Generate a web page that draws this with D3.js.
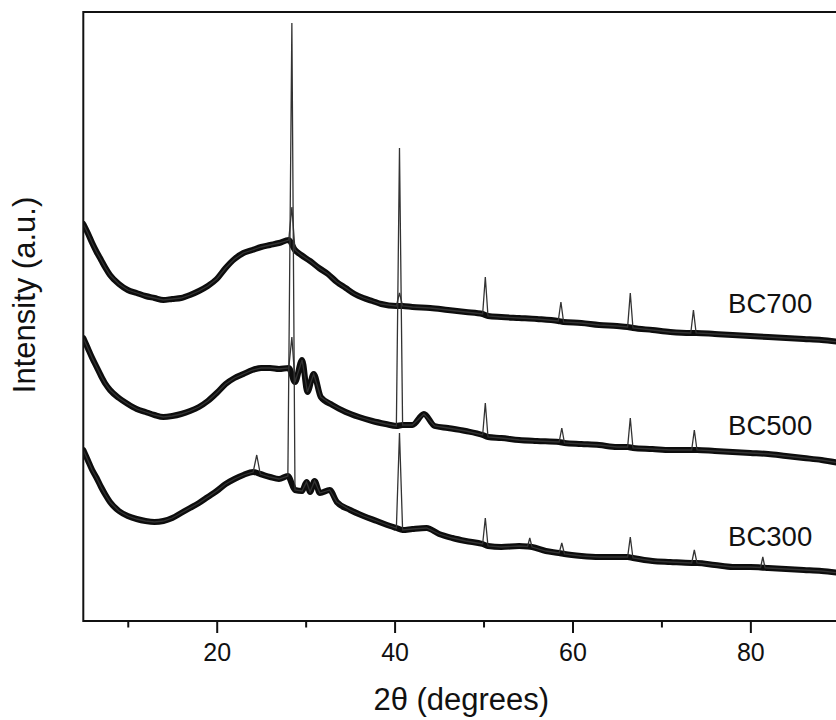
<!DOCTYPE html>
<html>
<head>
<meta charset="utf-8">
<script src="https://cdn.jsdelivr.net/npm/d3@7/dist/d3.min.js"></script>
<style>
  body { margin: 0; background: #fff; }
  text { font-family: "Liberation Sans", Arial, sans-serif; fill: #111; }
</style>
</head>
<body>
<div id="chart"></div>
<script>
// XRD readings: [2theta, intensity a.u.] (stacked traces)
var bc700 = [
  [5,3970],[5.5,3880],[6,3780],[6.5,3690],[7,3610],[7.5,3530],[8,3460],[9,3370],[10,3310],
  [11,3280],[12,3250],[13,3230],[14,3210],[15,3220],[16,3230],[17,3260],[18,3300],[19,3350],
  [20,3420],[21,3530],[22,3620],[23,3680],[24,3710],[25,3740],[26,3760],[27,3780],[28.1,3810],
  [28.45,4140],[28.8,3710],[29.5,3660],[30.5,3600],[31.5,3530],[32.5,3470],[33.5,3390],
  [34.5,3330],[35.5,3270],[36.5,3230],[37.5,3200],[38.5,3170],[40.2,3150],[40.55,3280],
  [40.9,3150],[42,3140],[44,3130],[46,3110],[48,3090],[49.9,3070],[50.2,3440],[50.5,3050],
  [52,3040],[54,3030],[56,3020],[58.4,3000],[58.7,3190],[59,2990],[61,2980],[63,2960],
  [65,2950],[66.2,2940],[66.5,3280],[66.8,2930],[69,2910],[71,2890],[73.3,2880],[73.6,3110],
  [73.9,2880],[76,2870],[78,2860],[80,2850],[82,2840],[84,2830],[86,2820],[88,2810],[90,2790]
];
var bc500 = [
  [5,2830],[5.5,2730],[6,2630],[6.5,2540],[7,2450],[7.5,2370],[8,2310],[9,2230],[10,2170],
  [11,2120],[12,2090],[13,2060],[14,2040],[15,2050],[16,2070],[17,2100],[18,2140],[19,2200],
  [20,2280],[21,2370],[22,2430],[23,2470],[24,2510],[25,2530],[26,2530],[27,2520],[28.1,2530],
  [28.45,2840],[28.8,2390],[29.6,2610],[30.2,2290],[30.9,2470],[31.7,2240],[33,2160],
  [34.5,2090],[36,2040],[37.5,2000],[39,1970],[40.2,1950],[40.55,4730],[40.9,1960],[42,1960],
  [43.3,2070],[44.5,1950],[46,1930],[48,1900],[49.9,1860],[50.2,2180],[50.5,1840],[52,1830],
  [54,1810],[56,1800],[58.5,1790],[58.8,1930],[59.1,1780],[61,1770],[63,1760],[65,1740],
  [66.2,1740],[66.5,2030],[66.8,1730],[69,1720],[71,1710],[73.4,1710],[73.7,1910],[74,1710],
  [76,1700],[78,1690],[80,1680],[82,1670],[84,1650],[86,1630],[88,1610],[90,1580]
];
var bc300 = [
  [5,1710],[5.5,1610],[6,1510],[6.5,1430],[7,1340],[7.5,1260],[8,1190],[9,1100],[10,1050],
  [11,1020],[12,1000],[13,990],[14,1000],[15,1030],[16,1080],[17,1130],[18,1180],[19,1240],
  [20,1300],[21,1370],[22,1420],[23,1460],[24.1,1490],[24.5,1660],[24.9,1470],[26,1440],
  [27,1420],[28,1450],[28.45,5980],[28.8,1310],[29.6,1300],[30.1,1390],[30.5,1290],[31,1400],
  [31.6,1280],[32.7,1310],[33.5,1190],[35,1110],[36.5,1050],[38,1000],[39.5,950],[40.2,930],
  [40.55,1880],[40.9,910],[42,920],[43.6,930],[45,870],[46.5,830],[48,800],[49.9,770],
  [50.2,1030],[50.5,750],[52,740],[54,750],[54.95,745],[55.2,830],[55.45,740],[57,700],
  [58.5,680],[58.8,780],[59.1,670],[61,650],[63,640],[65,640],[66.2,640],[66.5,840],[66.8,630],
  [69,600],[71,590],[73.4,580],[73.7,710],[74,580],[76,560],[78,540],[80,540],[81.15,535],
  [81.4,640],[81.65,532],[82,530],[84,520],[86,510],[88,500],[90,480]
];
var sampleNames = ['BC700', 'BC500', 'BC300'];
var labelPos = [[77.5, 3085], [77.5, 1860], [77.5, 750]];   // [2theta, intensity] of each name
var peakPos = [24.5, 28.45, 40.55, 50.2, 55.2, 58.75, 66.5, 73.65, 81.4];  // sharp spikes
var xTicks = [20, 40, 60, 80];
var xMinorTicks = [10, 30, 50, 70, 90];

var W = 836, H = 720;
var plotL = 83.3, plotR = 839.3, plotT = 12, plotB = 621;

var x = d3.scaleLinear().domain([5, 90]).range([plotL, plotR]);
var y = d3.scaleLinear().domain([0, 6090]).range([plotB, plotT]);

var svg = d3.select('#chart').append('svg')
    .attr('width', W)
    .attr('height', H);

svg.append('clipPath').attr('id', 'plotclip')
  .append('rect')
    .attr('x', plotL).attr('y', plotT)
    .attr('width', plotR - plotL).attr('height', plotB - plotT);

var line = d3.line()
    .x(function(d) { return x(d[0]); })
    .y(function(d) { return y(d[1]); });

var bandLine = d3.line()
    .curve(d3.curveMonotoneX)
    .x(function(d) { return x(d[0]); })
    .y(function(d) { return y(d[1]); });

function isPeak(d) {
  return peakPos.some(function(p) { return Math.abs(p - d[0]) < 0.21; });
}

var plot = svg.append('g').attr('clip-path', 'url(#plotclip)');
[bc700, bc500, bc300].forEach(function(series) {
  // noisy background band
  plot.append('path')
    .datum(series.filter(function(d) { return !isPeak(d); }))
    .attr('d', bandLine)
    .attr('fill', 'none')
    .attr('stroke', '#0d0d0d')
    .attr('stroke-width', 6)
    .attr('stroke-linejoin', 'round')
    .attr('stroke-linecap', 'round');
  // full trace with the sharp peaks
  plot.append('path')
    .datum(series)
    .attr('d', line)
    .attr('fill', 'none')
    .attr('stroke', '#333')
    .attr('stroke-width', 1.3);
});

// frame (right side runs off the picture)
svg.append('path')
    .attr('d', 'M' + W + ',' + plotT + 'H' + plotL + 'V' + plotB + 'H' + W)
    .attr('fill', 'none')
    .attr('stroke', '#111')
    .attr('stroke-width', 2);

// x axis
var gx = svg.append('g')
    .attr('transform', 'translate(0,' + plotB + ')')
    .call(d3.axisBottom(x).tickValues(xTicks).tickSize(12).tickPadding(10));
gx.select('.domain').remove();
gx.selectAll('line').attr('stroke', '#111').attr('stroke-width', 2);
gx.selectAll('text')
    .style('font-size', '25px')
    .style('font-family', '"Liberation Sans", Arial, sans-serif')
    .attr('fill', '#111');

var gm = svg.append('g')
    .attr('transform', 'translate(0,' + plotB + ')')
    .call(d3.axisBottom(x).tickValues(xMinorTicks).tickSize(6.5).tickFormat(''));
gm.select('.domain').remove();
gm.selectAll('line').attr('stroke', '#111').attr('stroke-width', 2);

// axis titles
svg.append('text')
    .attr('x', (plotL + plotR) / 2)
    .attr('y', 710)
    .attr('text-anchor', 'middle')
    .style('font-size', '31px')
    .text('2θ (degrees)');

svg.append('text')
    .attr('transform', 'translate(35,295) rotate(-90)')
    .attr('text-anchor', 'middle')
    .style('font-size', '31px')
    .text('Intensity (a.u.)');

// sample names
svg.selectAll('.name')
    .data(sampleNames)
  .enter().append('text')
    .attr('class', 'name')
    .attr('x', function(d, i) { return x(labelPos[i][0]); })
    .attr('y', function(d, i) { return y(labelPos[i][1]); })
    .style('font-size', '27.5px')
    .text(function(d) { return d; });
</script>
</body>
</html>
